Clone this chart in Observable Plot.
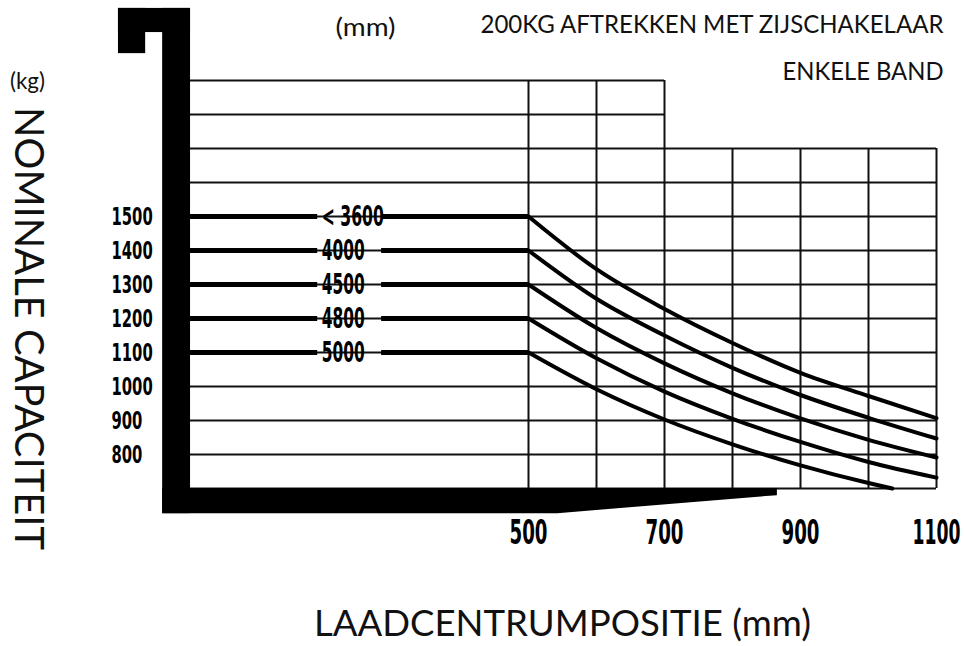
<!DOCTYPE html>
<html>
<head>
<meta charset="utf-8">
<script src="https://cdn.jsdelivr.net/npm/d3@7"></script>
<script src="https://cdn.jsdelivr.net/npm/@observablehq/plot@0.6"></script>
<style>
  html, body { margin: 0; padding: 0; background: #fff; }
  #chart { width: 964px; height: 646px; }
</style>
</head>
<body>
<div id="chart"></div>
<script>
// ---- data ----
const capacities = [1500, 1400, 1300, 1200, 1100];            // kg, flat part (load centre <= 500 mm)
const mastLabels = ["< 3600", "4000", "4500", "4800", "5000"]; // lift height (mm)
const positions = [500, 600, 700, 800, 900, 1000, 1100];       // load centre (mm)
const curve3600 = [1500, 1345, 1228, 1128, 1040, 972, 907];
const curve4000 = [1400, 1258, 1150, 1055, 975, 908, 847];
const curve4500 = [1300, 1172, 1068, 980, 906, 843, 791];
const curve4800 = [1200, 1083, 985, 905, 837, 778, 732];
const positions5000 = [500, 600, 700, 800, 900, 1000, 1035];
const curve5000 = [1100, 992, 903, 830, 768, 716, 700];
const xTicks = [500, 700, 900, 1100];
const yTicks = [800, 900, 1000, 1100, 1200, 1300, 1400, 1500];
const gridLevels = [700, 800, 900, 1000, 1100, 1200, 1300, 1400, 1500, 1600, 1700, 1800, 1900];
const gridPositions = [500, 600, 700, 800, 900, 1000, 1100];

const titleText = "200KG AFTREKKEN MET ZIJSCHAKELAAR";
const subtitleText = "ENKELE BAND";
const xTitle = "LAADCENTRUMPOSITIE (mm)";
const yTitle = "NOMINALE CAPACITEIT";

// ---- tables built from the arrays ----
const curveRows = [];
[[curve3600, positions], [curve4000, positions], [curve4500, positions], [curve4800, positions], [curve5000, positions5000]]
  .forEach(([vals, xs], i) => vals.forEach((v, j) => curveRows.push({mast: mastLabels[i], pos: xs[j], cap: v})));

const flatRows = capacities.flatMap((c, i) => [
  {mast: mastLabels[i], cap: c, from: 0, to: 190},
  {mast: mastLabels[i], cap: c, from: 284, to: 500}
]);

// decorative fork/mast bracket (data units)
const bracketRects = [
  {x1: -38, x2: 3, y1: 626, y2: 2112},
  {x1: -103, x2: 3, y1: 2041, y2: 2112},
  {x1: -103, x2: -63, y1: 1979, y2: 2112}
];
const bracketBase = [
  {pos: -38, lo: 626, hi: 700},
  {pos: 543, lo: 626, hi: 700},
  {pos: 866, lo: 679, hi: 700}
];

const numFont = "DejaVu Sans";
const txtFont = "Lato";

const chart = Plot.plot({
  width: 964,
  height: 646,
  marginLeft: 188,
  marginRight: 28,
  marginTop: 80,
  marginBottom: 158,
  style: {background: "#fff", color: "#000", fontFamily: txtFont, overflow: "visible"},
  x: {domain: [0, 1100], label: null},
  y: {domain: [700, 1900], label: null},
  marks: [
    // grid
    Plot.ruleY(gridLevels, {y: d => d, x1: 0, x2: d => d > 1700 ? 700 : 1100, stroke: "#111", strokeWidth: 2}),
    Plot.ruleX(gridPositions, {x: d => d, y1: 700, y2: d => d <= 700 ? 1900 : 1700, stroke: "#111", strokeWidth: 2}),
    // bracket
    Plot.rect(bracketRects, {x1: "x1", x2: "x2", y1: "y1", y2: "y2", fill: "#000"}),
    Plot.areaY(bracketBase, {x: "pos", y1: "lo", y2: "hi", fill: "#000"}),
    // flat capacity lines
    Plot.ruleY(flatRows, {y: "cap", x1: "from", x2: "to", stroke: "#000", strokeWidth: 5}),
    // derating curves
    Plot.line(curveRows, {x: "pos", y: "cap", z: "mast", curve: "monotone-x", stroke: "#000", strokeWidth: 4}),
    // mast labels
    Plot.text(capacities, {x: 196, y: d => d, text: (d, i) => mastLabels[i], textAnchor: "start", lineAnchor: "middle",
      fontSize: 29, fontWeight: "bold", fontFamily: numFont, fill: "#000"}),
    // axes
    Plot.axisX(xTicks, {anchor: "bottom", tickSize: 0, tickPadding: 32, fontSize: 33, fontWeight: "bold",
      fontFamily: numFont, label: null, tickFormat: d => String(d)}),
    Plot.axisY(yTicks, {anchor: "left", tickSize: 0, tickPadding: 77, textAnchor: "start", fontSize: 25,
      fontWeight: "bold", fontFamily: numFont, label: null, tickFormat: d => String(d)}),
    // texts
    Plot.text([xTitle], {frameAnchor: "bottom", dy: 136, textAnchor: "middle", lineAnchor: "middle",
      fontSize: 37, fontFamily: txtFont, fill: "#111"}),
    Plot.text([yTitle], {frameAnchor: "left", dx: -160, dy: 44, rotate: 90, textAnchor: "middle",
      lineAnchor: "middle", fontSize: 41, fontFamily: txtFont, fill: "#111"}),
    Plot.text(["(kg)"], {frameAnchor: "top-left", dx: -161, dy: 1, textAnchor: "middle", lineAnchor: "middle",
      fontSize: 24, fontFamily: txtFont, fill: "#111"}),
    Plot.text(["(mm)"], {frameAnchor: "top-left", dx: 177, dy: -53, textAnchor: "middle", lineAnchor: "middle",
      fontSize: 25, fontFamily: txtFont, fill: "#111"}),
    Plot.text([titleText], {frameAnchor: "top-right", dx: 7, dy: -56, textAnchor: "end",
      lineAnchor: "middle", fontSize: 25, fontFamily: txtFont, fill: "#111"}),
    Plot.text([subtitleText], {frameAnchor: "top-right", dx: 7, dy: -9, textAnchor: "end",
      lineAnchor: "middle", fontSize: 25, fontFamily: txtFont, fill: "#111"})
  ]
});

document.getElementById("chart").appendChild(chart);

// squeeze texts to the reference widths (condensed look)
const widths = new Map([
  ["< 3600", 62], ["4000", 43], ["4500", 43], ["4800", 43], ["5000", 43],
  [xTitle, 497], [yTitle, 443], ["(kg)", 35], ["(mm)", 60], [titleText, 463], [subtitleText, 161]
]);
function fit(el, w) {
  el.setAttribute("textLength", w);
  el.setAttribute("lengthAdjust", "spacingAndGlyphs");
}
d3.select(chart).selectAll('g[aria-label="y-axis tick label"] text').each(function () { fit(this, this.textContent.length * 10.3); });
d3.select(chart).selectAll('g[aria-label="x-axis tick label"] text').each(function () { fit(this, this.textContent.length === 3 ? 38 : 48); });
d3.select(chart).selectAll('g:not([aria-label$="tick label"]) > text').each(function () {
  const w = widths.get(this.textContent);
  if (w) fit(this, w);
});
</script>
</body>
</html>
